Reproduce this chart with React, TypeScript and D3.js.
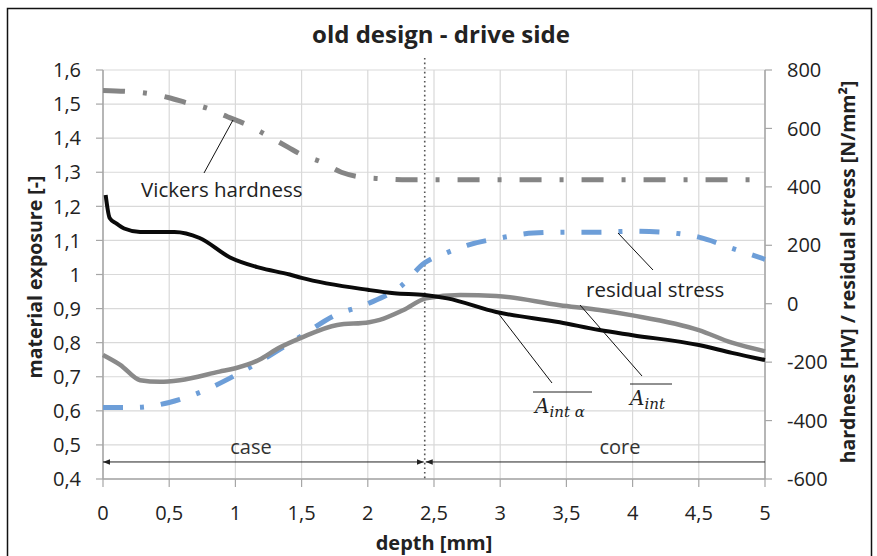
import React from "react";
import * as d3 from "d3";

const width = 877;
const height = 556;
const margin = { top: 70, right: 112, bottom: 77, left: 103 };
const x0 = margin.left;
const x1 = width - margin.right;
const y0 = height - margin.bottom;
const y1 = margin.top;

// depth ticks and axis ticks
const depthTicks = [0, 0.5, 1, 1.5, 2, 2.5, 3, 3.5, 4, 4.5, 5];
const exposureTicks = [0.4, 0.5, 0.6, 0.7, 0.8, 0.9, 1.0, 1.1, 1.2, 1.3, 1.4, 1.5, 1.6];
const stressTicks = [-600, -400, -200, 0, 200, 400, 600, 800];

// A_int alpha (black, left axis)
const aIntAlphaDepth = [0.02, 0.05, 0.1, 0.16, 0.28, 0.54, 0.73, 0.96, 1.18, 1.41, 1.5, 2.0, 2.2, 2.43, 2.6, 2.97, 3.45, 3.75, 4.0, 4.5, 4.75, 5.0];
const aIntAlphaValue = [1.233, 1.166, 1.15, 1.135, 1.125, 1.125, 1.107, 1.05, 1.02, 1.0, 0.99, 0.955, 0.945, 0.94, 0.93, 0.89, 0.86, 0.837, 0.822, 0.793, 0.77, 0.749];

// A_int (grey, left axis)
const aIntDepth = [0, 0.13, 0.28, 0.43, 0.58, 0.88, 1.0, 1.18, 1.33, 1.5, 1.77, 2.01, 2.09, 2.27, 2.44, 2.7, 2.97, 3.45, 3.75, 4.0, 4.5, 4.75, 5.0];
const aIntValue = [0.764, 0.735, 0.69, 0.685, 0.69, 0.715, 0.725, 0.75, 0.785, 0.815, 0.852, 0.86, 0.867, 0.896, 0.93, 0.94, 0.937, 0.91, 0.896, 0.88, 0.837, 0.8, 0.775];

// Vickers hardness (right axis)
const hardDepth = [0, 0.3, 0.5, 0.63, 0.78, 0.94, 1.09, 1.22, 1.4, 1.5, 1.65, 1.8, 1.94, 2.1, 2.3, 3, 4, 5];
const hardValue = [730, 722, 705, 688, 670, 640, 612, 581, 535, 510, 485, 450, 434, 428, 424, 424, 424, 424];

// residual stress (right axis)
const stressDepth = [0, 0.25, 0.5, 0.75, 1.0, 1.25, 1.5, 1.75, 2.0, 2.25, 2.43, 2.6, 2.75, 3.0, 3.25, 3.5, 3.75, 4.0, 4.25, 4.5, 4.75, 5.0];
const stressValue = [-355, -355, -338, -300, -245, -180, -110, -40, 0, 60, 140, 175, 200, 225, 242, 245, 245, 248, 244, 228, 190, 152];

const boundary = 2.43;

const fmt = (v: number) => (Math.round(v * 10) / 10).toString().replace(".", ",");

export default function App() {
  const x = d3.scaleLinear().domain([0, 5]).range([x0, x1]);
  const yL = d3.scaleLinear().domain([0.4, 1.6]).range([y0, y1]);
  const yR = d3.scaleLinear().domain([-600, 800]).range([y0, y1]);

  const lineL = d3.line<[number, number]>().x(d => x(d[0])).y(d => yL(d[1])).curve(d3.curveMonotoneX);
  const lineR = d3.line<[number, number]>().x(d => x(d[0])).y(d => yR(d[1])).curve(d3.curveMonotoneX);

  const zip = (a: number[], b: number[]) => a.map((v, i) => [v, b[i]] as [number, number]);

  const font = "'Open Sans', sans-serif";
  const axisCol = "#a6a6a6";
  const gridCol = "#d9d9d9";
  const arrowY = yL(0.45);
  const xb = x(boundary);

  return (
    <svg width={width} height={height} style={{ position: "absolute", left: 0, top: 0, background: "#fff" }} fontFamily={font}>
      <defs>
        <marker id="arr" viewBox="0 0 10 10" refX="10" refY="5" markerWidth="7" markerHeight="7" orient="auto-start-reverse">
          <path d="M0,1 L10,5 L0,9 z" fill="#222" />
        </marker>
      </defs>
      <rect x={7.5} y={8.5} width={864} height={560} fill="none" stroke="#111" strokeWidth={1.5} />
      <text x={441} y={43} textAnchor="middle" fontSize={24} fontWeight="bold" fill="#222">old design - drive side</text>

      {/* grid */}
      {exposureTicks.map(t => (
        <line key={"h" + t} x1={x0} x2={x1} y1={yL(t)} y2={yL(t)} stroke={gridCol} strokeWidth={1.2} />
      ))}
      {depthTicks.map(t => (
        <line key={"v" + t} x1={x(t)} x2={x(t)} y1={y0} y2={y1} stroke={gridCol} strokeWidth={1.2} />
      ))}

      {/* axes */}
      <line x1={x0} x2={x0} y1={y0} y2={y1} stroke={axisCol} strokeWidth={1.5} />
      <line x1={x1} x2={x1} y1={y0} y2={y1} stroke={axisCol} strokeWidth={1.5} />
      <line x1={x0} x2={x1} y1={y0} y2={y0} stroke={axisCol} strokeWidth={1.5} />
      {exposureTicks.map(t => (
        <g key={"lt" + t}>
          <line x1={x0 - 7} x2={x0} y1={yL(t)} y2={yL(t)} stroke={axisCol} strokeWidth={1.2} />
          <text x={x0 - 22} y={yL(t)} dy="0.36em" textAnchor="end" fontSize={20} fill="#222">{fmt(t)}</text>
        </g>
      ))}
      {stressTicks.map(t => (
        <g key={"rt" + t}>
          <line x1={x1} x2={x1 + 7} y1={yR(t)} y2={yR(t)} stroke={axisCol} strokeWidth={1.2} />
          <text x={x1 + 22} y={yR(t)} dy="0.36em" textAnchor="start" fontSize={20} fill="#222">{t}</text>
        </g>
      ))}
      {depthTicks.map(t => (
        <g key={"bt" + t}>
          <line x1={x(t)} x2={x(t)} y1={y0} y2={y0 + 8} stroke={axisCol} strokeWidth={1.2} />
          <text x={x(t)} y={y0 + 34} dy="0.36em" textAnchor="middle" fontSize={20} fill="#222">{fmt(t)}</text>
        </g>
      ))}
      <text x={434} y={543} dy="0.36em" textAnchor="middle" fontSize={20} fontWeight="bold" fill="#222">depth [mm]</text>
      <text transform={`translate(35,277) rotate(-90)`} dy="0.36em" textAnchor="middle" fontSize={19.5} fontWeight="bold" fill="#222">material exposure [-]</text>
      <text transform={`translate(848,272) rotate(-90)`} dy="0.36em" textAnchor="middle" fontSize={19.5} fontWeight="bold" fill="#222">hardness [HV] / residual stress [N/mm²]</text>

      {/* boundary */}
      <line x1={xb} x2={xb} y1={58} y2={y0} stroke="#555" strokeWidth={1.6} strokeDasharray="1.6,3" />
      <line x1={x0} x2={xb - 1} y1={arrowY} y2={arrowY} stroke="#222" strokeWidth={1} markerStart="url(#arr)" markerEnd="url(#arr)" />
      <line x1={xb + 1} x2={x1} y1={arrowY} y2={arrowY} stroke="#222" strokeWidth={1} markerStart="url(#arr)" />
      <text x={251} y={arrowY - 8} textAnchor="middle" fontSize={20} fill="#333">case</text>
      <text x={620} y={arrowY - 8} textAnchor="middle" fontSize={20} fill="#333">core</text>

      {/* series */}
      <path d={lineR(zip(hardDepth, hardValue)) || ""} fill="none" stroke="#858585" strokeWidth={5} strokeDasharray="22,18,4,18" />
      <path d={lineR(zip(stressDepth, stressValue)) || ""} fill="none" stroke="#6d9ed8" strokeWidth={5} strokeDasharray="20,17,4,17" />
      <path d={lineL(zip(aIntDepth, aIntValue)) || ""} fill="none" stroke="#8a8a8a" strokeWidth={4.5} />
      <path d={lineL(zip(aIntAlphaDepth, aIntAlphaValue)) || ""} fill="none" stroke="#0a0a0a" strokeWidth={4} />

      {/* annotations */}
      <line x1={204} y1={173} x2={233} y2={120} stroke="#111" strokeWidth={1} />
      <text x={141} y={190} dy="0.36em" fontSize={20.5} fill="#222">Vickers hardness</text>
      <line x1={618} y1={233} x2={653} y2={270} stroke="#111" strokeWidth={1} />
      <text x={586} y={290} dy="0.36em" fontSize={20.5} fill="#222">residual stress</text>

      <line x1={498} y1={313} x2={552} y2={383} stroke="#111" strokeWidth={1} />
      <line x1={533} x2={592} y1={392} y2={392} stroke="#222" strokeWidth={1} />
      <text x={535} y={413} fontFamily="'DejaVu Serif', serif" fontStyle="italic" fill="#222">
        <tspan fontSize={20}>A</tspan>
        <tspan fontSize={15} dy={4}>int α</tspan>
      </text>
      <line x1={580} y1={305} x2={642} y2={376} stroke="#111" strokeWidth={1} />
      <line x1={630} x2={672} y1={384} y2={384} stroke="#222" strokeWidth={1} />
      <text x={630} y={405} fontFamily="'DejaVu Serif', serif" fontStyle="italic" fill="#222">
        <tspan fontSize={20}>A</tspan>
        <tspan fontSize={15} dy={4}>int</tspan>
      </text>
    </svg>
  );
}
